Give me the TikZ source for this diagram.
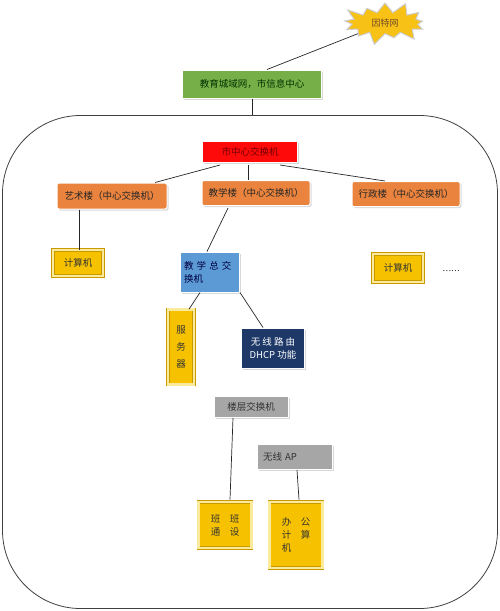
\documentclass[tikz,border=0pt]{standalone}
\usepackage{fontspec}
\setmainfont{Noto Sans CJK SC}
\usepackage{tikz}
\usetikzlibrary{shadows,shapes,positioning,calc}
\definecolor{burst}{HTML}{F8C116}
\definecolor{cityg}{HTML}{76AE47}
\definecolor{coreR}{HTML}{FF0A0A}
\definecolor{bldO}{HTML}{E9833D}
\definecolor{mainB}{HTML}{5C9AD6}
\definecolor{navy}{HTML}{1E3968}
\definecolor{grayb}{HTML}{A6A6A6}
\definecolor{gold}{HTML}{F6C200}
\definecolor{goldE}{HTML}{C89A00}
\definecolor{goldP}{HTML}{FBE99C}
\tikzset{
    box/.style={rectangle,draw=white,line width=1pt,align=center,inner sep=2pt,
        font=\fontsize{9.5}{13}\selectfont,
        drop shadow={shadow xshift=1.5pt,shadow yshift=-1.5pt,fill=black!30}},
    greenbox/.style={box,fill=cityg,text=green!20!black},
    redbox/.style={box,fill=coreR,text=red!45!black},
    orangebox/.style={box,fill=bldO,rounded corners=2pt,text=black!85},
    bluebox/.style={box,fill=mainB,text=blue!25!black,align=left},
    navybox/.style={box,fill=navy,text=white},
    graybox/.style={box,fill=grayb,text=black!80},
    goldbox/.style={box,fill=gold,draw=goldE,line width=0.6pt,double=goldP,double distance=2.5pt,text=black!80},
    link/.style={-,line width=0.7pt,draw=black!85},
}

\begin{document}
\begin{tikzpicture}[x=1pt,y=-1pt]
                \useasboundingbox (0,0) rectangle (500,611);
                \node[draw=black!75,line width=0.8pt,rounded corners=78pt,minimum width=495pt,minimum height=493pt] (campus) at (250,362) {};
                \node[starburst,fill=burst,draw=black!20,line width=1pt,minimum width=92pt,minimum height=40pt,
                    starburst points=13,starburst point height=13pt,font=\fontsize{9}{11}\selectfont,text=brown!60!black] (inet) at (385,23) {因特网};
                \node[greenbox,minimum width=139pt,minimum height=28pt] (city) at (252,84) {教育城域网，市信息中心};
                \node[redbox,minimum width=95pt,minimum height=21pt] (core) at (250,152) {市中心交换机};
                \node[orangebox,minimum width=110pt,minimum height=26pt] (art) at (112,196) {艺术楼（中心交换机）};
                \node[orangebox,minimum width=108pt,minimum height=25pt] (teach) at (256,193) {教学楼（中心交换机）};
                \node[orangebox,minimum width=108pt,minimum height=25pt] (admin) at (406,194) {行政楼（中心交换机）};
                \node[goldbox,minimum width=50pt,minimum height=26pt] (pc1) at (78,263) {计算机};
                \node[goldbox,minimum width=50pt,minimum height=28pt] (pc2) at (398,268) {计算机};
                \node[font=\fontsize{8}{10}\selectfont] (more) at (451,271) {……};
                \node[bluebox,minimum width=59pt,minimum height=40pt,text width=52pt] (main) at (210,272) {教 学 总 交\\换机\\[2pt]};
                \node[goldbox,minimum width=26pt,minimum height=75pt] (server) at (181,347) {服\\[4pt]务\\[4pt]器};
                \node[navybox,minimum width=63pt,minimum height=40pt] (router) at (273,348) {无 线 路 由\\DHCP 功能};
                \node[graybox,minimum width=74pt,minimum height=21pt] (floor) at (251,407) {楼层交换机};
                \node[graybox,minimum width=75pt,minimum height=25pt,align=left,text width=64pt] (ap) at (295,457) {无线 AP};
                \node[goldbox,minimum width=53pt,minimum height=46pt] (class) at (225,525) {班\quad 班\\通\quad 设};
                \node[goldbox,minimum width=53pt,minimum height=66pt,align=left] (office) at (296,535) {办\quad 公\\计\quad 算\\机};
                \draw[link] (inet) -- ($(city.north)+(15,0)$);
                \draw[link] (city.south) -- (city.south |- campus.north);
                \draw[link] ($(core.south)+(-30,2)$) -- ($(art.north)+(43,0)$);
                \draw[link] ($(core.south)+(-2,2)$) -- ($(teach.north)+(-8,0)$);
                \draw[link] ($(core.south)+(30,2)$) -- ($(admin.north)+(-21,0)$);
                \draw[link] ($(art.south)+(-33,0)$) -- ($(pc1.north)+(1,0)$);
                \draw[link] ($(teach.south)+(-28,2)$) -- ($(main.north)+(-3,0)$);
                \draw[link] ($(main.south)+(-10,0)$) -- ($(server.north)+(8,0)$);
                \draw[link] (main.south east) -- ($(router.north)+(-10,0)$);
                \draw[link] ($(floor.south)+(-18,0)$) -- ($(class.north)+(5,-2)$);
                \draw[link] ($(ap.south)+(2,0)$) -- ($(office.north)+(3,-2)$);
            \end{tikzpicture}
\end{document}
